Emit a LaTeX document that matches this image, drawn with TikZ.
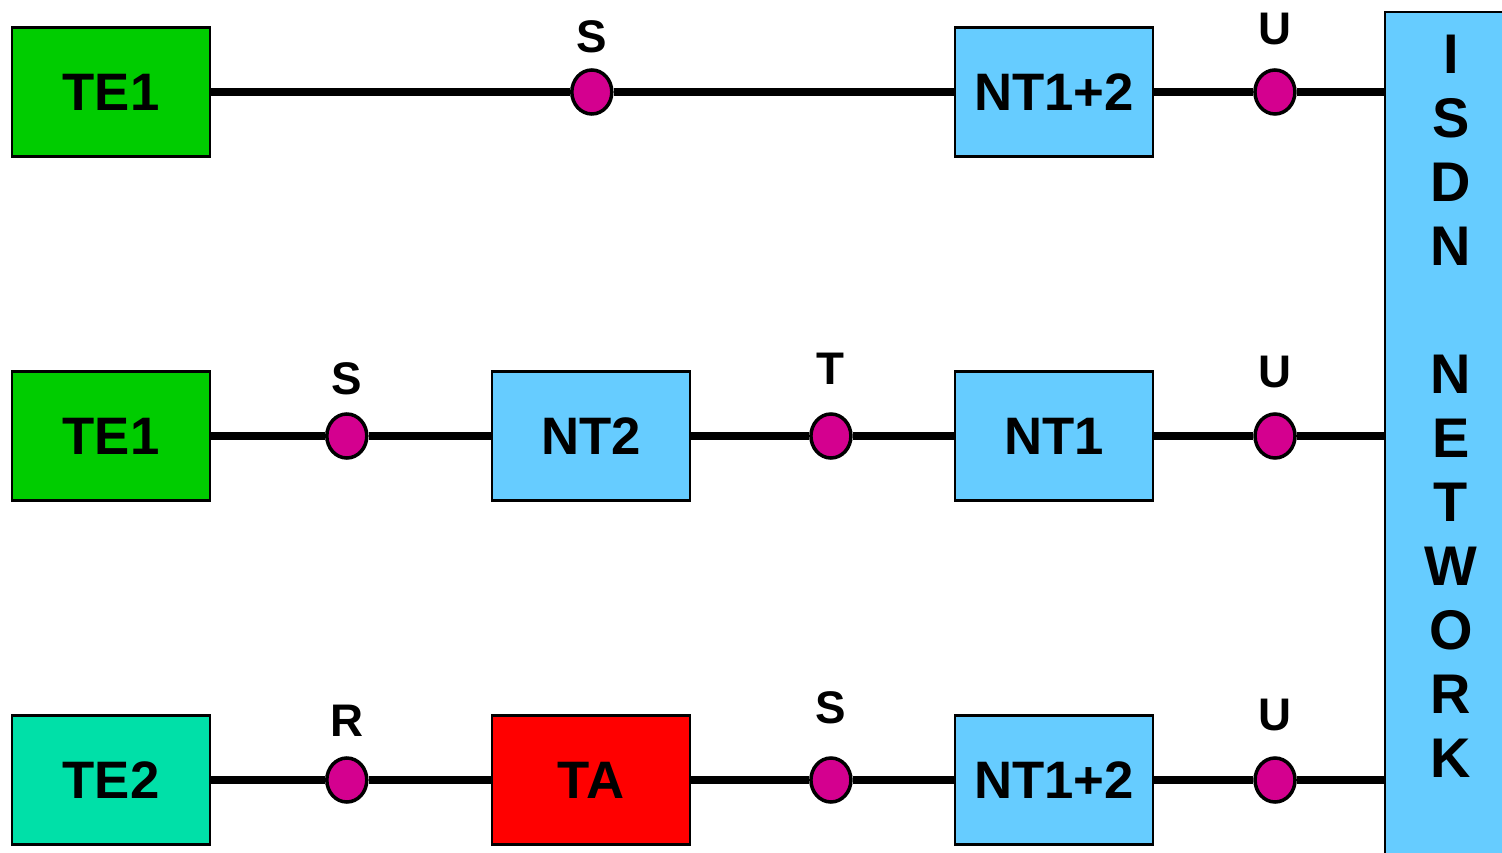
\documentclass[tikz,border=0pt]{standalone}
\usepackage{fontspec}
\setmainfont{Liberation Sans}
\usetikzlibrary{shapes.geometric, positioning}
\definecolor{teGreen}{HTML}{00CC00}
\definecolor{teTeal}{HTML}{00E0A8}
\definecolor{ntBlue}{HTML}{66CCFF}
\definecolor{taRed}{HTML}{FF0000}
\definecolor{refPink}{HTML}{D4008F}
\tikzstyle{box} = [rectangle, draw=black, line width=0.6pt, minimum width=1.98cm, minimum height=1.29cm, inner sep=0pt, font=\fontsize{15pt}{18pt}\selectfont\bfseries]
\tikzstyle{port} = [ellipse, draw=black, line width=1pt, fill=refPink, minimum width=0.40cm, minimum height=0.44cm, inner sep=0pt]
\tikzstyle{lbl} = [font=\fontsize{13pt}{15pt}\selectfont\bfseries]
\tikzstyle{link} = [line width=2.2pt]

\begin{document}
\begin{tikzpicture}[node distance = 10mm]
		\useasboundingbox (0,0) rectangle (15.02,-8.52);
		% network on the right
		\node (net) [box, fill=ntBlue, minimum width=1.32cm, minimum height=8.58cm] at (14.51,-4.41) {};
		\node (netText) [lbl, font=\fontsize{15.9pt}{0.64cm}\selectfont\bfseries, align=center] at (14.51,-4.06) {I\\S\\D\\N\\ \\N\\E\\T\\W\\O\\R\\K};

		% first row
		\node (TE1a) [box, fill=teGreen] at (1.11,-0.92) {TE1};
		\node (NT12a) [box, fill=ntBlue, right = 7.43cm of TE1a] {NT1+2};
		\node (S1) [port, right = 3.59cm of TE1a, label={[lbl, label distance=0.03cm]above:S}] {};
		\node (U1) [port, right = 0.99cm of NT12a, label={[lbl, label distance=0.11cm]above:U}] {};

		% second row
		\node (TE1b) [box, fill=teGreen] at (1.11,-4.36) {TE1};
		\node (NT2) [box, fill=ntBlue, right = 2.80cm of TE1b] {NT2};
		\node (NT1) [box, fill=ntBlue, right = 2.63cm of NT2] {NT1};
		\node (S2) [port, right = 1.14cm of TE1b, label={[lbl, label distance=0.05cm]above:S}] {};
		\node (T2) [port, right = 1.18cm of NT2, label={[lbl, label distance=0.15cm]above:T}] {};
		\node (U2) [port, right = 0.99cm of NT1, label={[lbl, label distance=0.12cm]above:U}] {};

		% third row
		\node (TE2) [box, fill=teTeal] at (1.11,-7.80) {TE2};
		\node (TA) [box, fill=taRed, right = 2.80cm of TE2] {TA};
		\node (NT12b) [box, fill=ntBlue, right = 2.63cm of TA] {NT1+2};
		\node (R3) [port, right = 1.14cm of TE2, label={[lbl, label distance=0.07cm]above:R}] {};
		\node (S3) [port, right = 1.18cm of TA, label={[lbl, label distance=0.20cm]above:S}] {};
		\node (U3) [port, right = 0.99cm of NT12b, label={[lbl, label distance=0.13cm]above:U}] {};

		\draw [link] (TE1a) -- (S1) -- (NT12a) -- (U1) -- (U1 -| net.west);
		\draw [link] (TE1b) -- (S2) -- (NT2) -- (T2) -- (NT1) -- (U2) -- (U2 -| net.west);
		\draw [link] (TE2) -- (R3) -- (TA) -- (S3) -- (NT12b) -- (U3) -- (U3 -| net.west);
\end{tikzpicture}
\end{document}
